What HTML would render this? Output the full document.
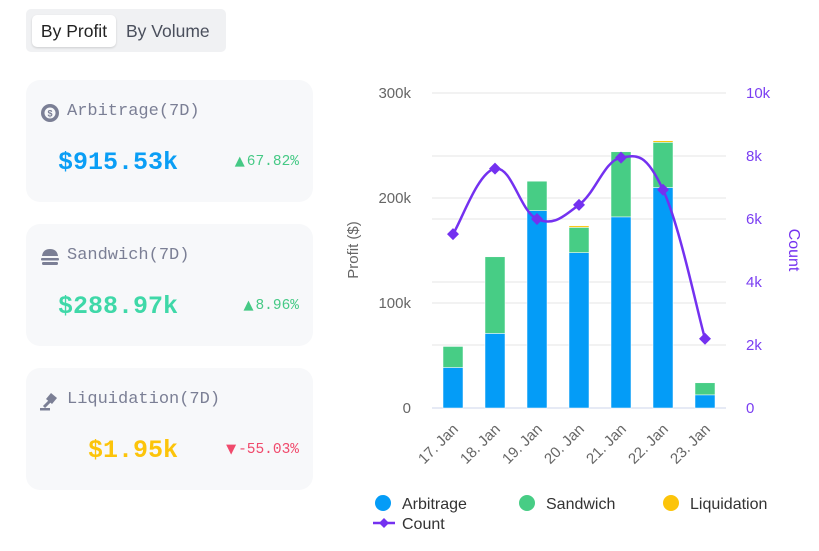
<!DOCTYPE html>
<html><head><meta charset="utf-8"><style>
body{margin:0;width:819px;height:551px;background:#fff;font-family:"Liberation Sans",sans-serif;position:relative;overflow:hidden}
.tabs{position:absolute;left:26px;top:9px;width:200px;height:43px;background:#f0f1f3;border-radius:5px}
.tab{position:absolute;top:6px;height:32px;line-height:32px;font-size:17.5px;color:#4a4f5c}
.tab.on{left:6px;width:84px;background:#fff;border-radius:5px;box-shadow:0 1px 2px rgba(0,0,0,.15);text-align:center;color:#222}
.card{position:absolute;left:26px;width:287px;height:122px;background:#f7f8fa;border-radius:14px}
.ct{position:absolute;left:41px;top:22px;font-family:"Liberation Mono",monospace;font-size:17px;color:#7b7f95}
.ic{position:absolute;left:14px;top:23px;width:20px;height:20px}
.val{position:absolute;right:135px;top:68px;font-family:"Liberation Mono",monospace;font-weight:bold;font-size:25px}
.pct{position:absolute;right:14px;top:74px;font-family:"Liberation Mono",monospace;font-size:14.5px}
.tri{font-family:"DejaVu Sans",sans-serif;font-size:13px;margin-right:2px}
</style></head><body>
<div class="tabs">
<div class="tab on">By Profit</div>
<div class="tab" style="left:100px">By Volume</div>
</div>
<div class="card" style="top:80px">
<svg class="ic" viewBox="0 0 20 20"><circle cx="10" cy="10" r="9" fill="#7b7f95"/><circle cx="10" cy="10" r="5.5" fill="#f7f8fa"/><text x="10" y="13.5" font-size="9" text-anchor="middle" fill="#7b7f95" font-weight="bold">$</text></svg>
<div class="ct">Arbitrage(7D)</div>
<div class="val" style="color:#0a9ef5">$915.53k</div>
<div class="pct" style="color:#45c985"><span class="tri">▲</span>67.82%</div>
</div>
<div class="card" style="top:224px">
<svg class="ic" viewBox="0 0 20 20"><path d="M2 9 Q3 2 10 2 Q17 2 18 9Z" fill="#7b7f95"/><rect x="1" y="11" width="18" height="2.5" rx="1" fill="#7b7f95"/><rect x="2" y="15" width="16" height="3" rx="1.2" fill="#7b7f95"/></svg>
<div class="ct">Sandwich(7D)</div>
<div class="val" style="color:#3fd8a8">$288.97k</div>
<div class="pct" style="color:#45c985"><span class="tri">▲</span>8.96%</div>
</div>
<div class="card" style="top:368px">
<svg class="ic" viewBox="0 0 20 20"><path d="M6 8 L11 2 L17 7 L12 13Z" fill="#7b7f95"/><path d="M10 10 L4 16" stroke="#7b7f95" stroke-width="3"/><rect x="0" y="17" width="10" height="2.5" fill="#7b7f95"/></svg>
<div class="ct">Liquidation(7D)</div>
<div class="val" style="color:#fcc40a">$1.95k</div>
<div class="pct" style="color:#f04a6c"><span class="tri">▼</span>-55.03%</div>
</div>
<svg id="chart" width="819" height="551" style="position:absolute;left:0;top:0"></svg>
<script>
const categories=["17. Jan","18. Jan","19. Jan","20. Jan","21. Jan","22. Jan","23. Jan"];
const arbitrage=[38.6,71,188,148,182,210,12.5];
const sandwich=[20,73,28,24,62,43,11.5];
const liquidation=[0,0,0,1.5,0,1.5,0];
const counts=[5.52,7.6,6.0,6.45,7.95,6.93,2.2];
const leftTicks=[0,100,200,300];
const rightTicks=[0,2,4,6,8,10];
const NS="http://www.w3.org/2000/svg";
const svg=document.getElementById('chart');
const X0=432,X1=726,YT=93,YB=408;
const yL=v=>YB-(v/300)*(YB-YT);
const yR=v=>YB-(v/10)*(YB-YT);
const bw=(X1-X0)/categories.length;
const xC=i=>X0+bw*(i+0.5);
function mk(t,a,txt){const e=document.createElementNS(NS,t);for(const k in a)e.setAttribute(k,a[k]);if(txt!==undefined)e.textContent=txt;svg.appendChild(e);return e;}
leftTicks.forEach(v=>{const g=mk('line',{x1:X0,x2:X1,y1:yL(v),y2:yL(v),stroke:v?'#e6e6e6':'#ccd6eb','stroke-width':1});


const t=mk('text',{x:411,y:yL(v)+5,'text-anchor':'end','font-size':15,fill:'#666'},v?v+'k':'0');

});
rightTicks.forEach(v=>{if(v%10!==0){const g=mk('line',{x1:X0,x2:X1,y1:yR(v),y2:yR(v),stroke:'#e6e6e6','stroke-width':1});

}
const t=mk('text',{x:746,y:yR(v)+5,'font-size':15,fill:'#7b3ff2'},v?v+'k':'0');

});
const series=[[arbitrage,'#049cf7'],[sandwich,'#47cd85'],[liquidation,'#fcc40a']];
categories.forEach((c,i)=>{let base=0;series.forEach(([arr,col],s)=>{const v=arr[i];if(v>0){const r=mk('rect',{x:xC(i)-10,y:yL(base+v),width:20,height:yL(base)-yL(base+v),fill:col,stroke:'#fff','stroke-width':0.5});

}base+=v;});
const t=mk('text',{x:0,y:0,'font-size':15,fill:'#666','text-anchor':'end',transform:`translate(${xC(i)+6},${430}) rotate(-45)`},c);

});
const pts=counts.map((v,i)=>[xC(i),yR(v)]);
let d=`M${pts[0][0]},${pts[0][1]}`;
for(let i=0;i<pts.length-1;i++){const p0=pts[Math.max(i-1,0)],p1=pts[i],p2=pts[i+1],p3=pts[Math.min(i+2,pts.length-1)];
const k=0.2;d+=` C${p1[0]+(p2[0]-p0[0])*k},${p1[1]+(p2[1]-p0[1])*k} ${p2[0]-(p3[0]-p1[0])*k},${p2[1]-(p3[1]-p1[1])*k} ${p2[0]},${p2[1]}`;}
const ln=mk('path',{d,fill:'none',stroke:'#7431f0','stroke-width':2.5});


pts.forEach(p=>{const m=mk('path',{d:`M${p[0]},${p[1]-6}L${p[0]+6},${p[1]}L${p[0]},${p[1]+6}L${p[0]-6},${p[1]}Z`,fill:'#7431f0'});

});
const yt=mk('text',{x:0,y:0,'font-size':15,fill:'#666','text-anchor':'middle',transform:'translate(358,250) rotate(-90)'},'Profit ($)');


const rt=mk('text',{x:0,y:0,'font-size':16,fill:'#7431f0','text-anchor':'middle',transform:'translate(789,250) rotate(90)'},'Count');


[['Arbitrage','#049cf7',383],['Sandwich','#47cd85',527],['Liquidation','#fcc40a',671]].forEach(([n,c,x])=>{
const g=mk('circle',{cx:x,cy:503,r:8,fill:c});


const t=mk('text',{x:x+19,y:509,'font-size':16,fill:'#333'},n);

});
const ll=mk('line',{x1:373,x2:395,y1:523,y2:523,stroke:'#7431f0','stroke-width':2.5});


const lm=mk('path',{d:'M384,518L389,523L384,528L379,523Z',fill:'#7431f0'});


const lt=mk('text',{x:402,y:529,'font-size':16,fill:'#333'},'Count');


</script>
</body></html>
